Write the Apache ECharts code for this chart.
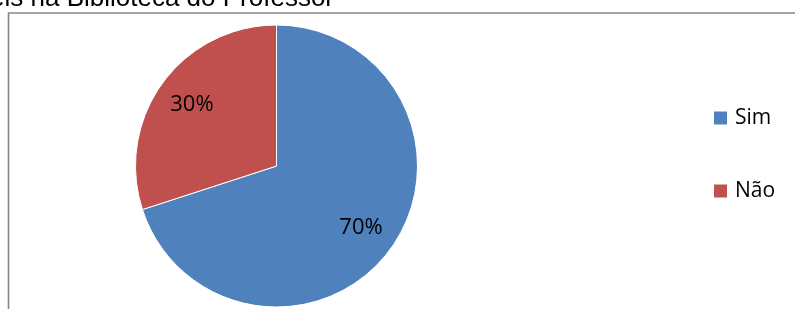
<!DOCTYPE html>
<html>
<head>
<meta charset="utf-8">
<script src="https://cdn.jsdelivr.net/npm/echarts@6/dist/echarts.min.js"></script>
<style>
  html, body { margin: 0; padding: 0; background: #fff; }
  #chart { width: 795px; height: 309px; }
</style>
</head>
<body>
<div id="chart"></div>
<script>
const categories = ['Sim', 'Não'];
const values = [70, 30];
const colors = ['#4F81BD', '#C0504D'];
const titleText = 'disponíveis na Biblioteca do Professor';

const pieData = categories.map((name, i) => ({
  name: name,
  value: values[i],
  itemStyle: {color: colors[i]}
}));

const center = [276.5, 166];

const option = {
  animation: false,
  legend: {
    orient: 'vertical',
    left: 712,
    top: 107.5,
    padding: 0,
    itemWidth: 15,
    itemHeight: 15,
    itemGap: 52,
    icon: 'rect',
    data: categories,
    textStyle: {
      fontFamily: 'Open Sans',
      fontSize: 21,
      lineHeight: 15,
      color: '#000',
      padding: [0, 0, 0, 2]
    }
  },
  graphic: [
    {
      type: 'rect',
      silent: true,
      shape: {x: 8.5, y: 13, width: 800, height: 320},
      style: {fill: 'none', stroke: '#868686', lineWidth: 1.6}
    },
    {
      type: 'text',
      silent: true,
      x: 334,
      y: -1,
      style: {
        text: titleText,
        fontFamily: 'Liberation Sans',
        fontSize: 26,
        fill: '#000',
        textAlign: 'right',
        textVerticalAlign: 'middle'
      }
    }
  ],
  series: [
    {
      type: 'pie',
      center: center,
      radius: 141,
      startAngle: 90,
      clockwise: true,
      silent: true,
      itemStyle: {borderColor: '#fff', borderWidth: 1},
      label: {show: false},
      labelLine: {show: false},
      data: pieData
    },
    {
      // invisible ring, only used to place the percentage labels at ~0.72 r
      type: 'pie',
      center: center,
      radius: [63, 140],
      startAngle: 90,
      clockwise: true,
      silent: true,
      legendHoverLink: false,
      itemStyle: {color: 'rgba(0,0,0,0)', borderWidth: 0},
      label: {
        show: true,
        position: 'inside',
        formatter: '{d}%',
        fontFamily: 'Open Sans',
        fontSize: 22,
        color: '#000'
      },
      labelLine: {show: false},
      data: categories.map((name, i) => ({name: name + ' ', value: values[i]}))
    }
  ]
};

const myChart = echarts.init(document.getElementById('chart'));
myChart.setOption(option);
</script>
</body>
</html>
